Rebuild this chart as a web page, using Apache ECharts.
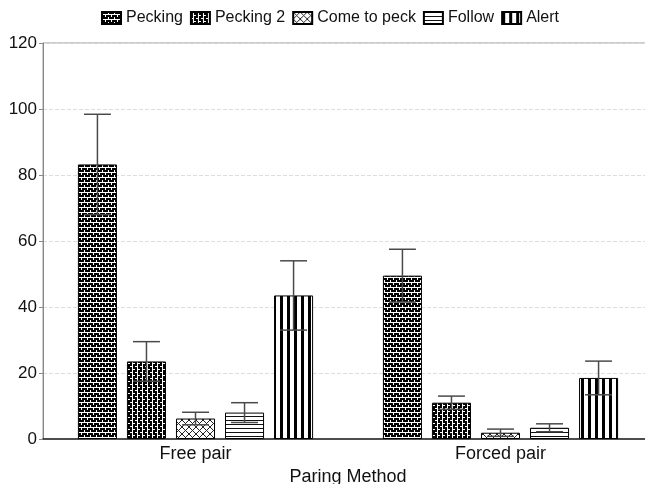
<!DOCTYPE html>
<html>
<head>
<meta charset="utf-8">
<script src="https://cdn.jsdelivr.net/npm/echarts@6/dist/echarts.min.js"></script>
<style>html,body{margin:0;padding:0;background:#fff}#c{width:645px;height:484px}</style>
</head>
<body>
<div id="c"></div>
<script>
// ---- data ----
var categories = ['Free pair', 'Forced pair'];
var seriesNames = ['Pecking', 'Pecking 2', 'Come to peck', 'Follow', 'Alert'];
var pecking      = [83.2, 49.5];
var peckingErr   = [15.2, 8.0];
var pecking2     = [23.5, 11.0];
var pecking2Err  = [6.0, 2.0];
var comeToPeck   = [6.2, 1.9];
var comeToPeckErr= [1.9, 1.1];
var follow       = [8.0, 3.4];
var followErr    = [3.0, 1.2];
var alertV       = [43.5, 18.5];
var alertErr     = [10.5, 5.1];
var yTicks = [0, 20, 40, 60, 80, 100, 120];

var means = [pecking, pecking2, comeToPeck, follow, alertV];
var errs  = [peckingErr, pecking2Err, comeToPeckErr, followErr, alertErr];

// ---- patterns ----
function mk(w, h, draw) {
  var c = document.createElement('canvas');
  c.width = w; c.height = h;
  var g = c.getContext('2d');
  draw(g, w, h);
  return { image: c, repeat: 'repeat' };
}
var patBrickH = mk(6, 5, function (g, w, h) {
  g.fillStyle = '#000'; g.fillRect(0, 0, w, h);
  g.fillStyle = '#fff';
  g.fillRect(0, 2, w, 1);
  g.fillRect(0, 0, 1, 2); g.fillRect(3, 3, 1, 2);
});
var patBrickV = mk(5, 6, function (g, w, h) {
  g.fillStyle = '#000'; g.fillRect(0, 0, w, h);
  g.fillStyle = '#fff';
  g.fillRect(2, 0, 1, h);
  g.fillRect(0, 0, 2, 1); g.fillRect(3, 3, 2, 1);
});
var patCross = mk(7, 7, function (g, w, h) {
  g.fillStyle = '#fff'; g.fillRect(0, 0, w, h);
  g.strokeStyle = '#222'; g.lineWidth = 1;
  g.beginPath();
  g.moveTo(0, 0); g.lineTo(w, h);
  g.moveTo(w, 0); g.lineTo(0, h);
  g.stroke();
});
var patHoriz = mk(4, 4, function (g, w, h) {
  g.fillStyle = '#fff'; g.fillRect(0, 0, w, h);
  g.fillStyle = '#111'; g.fillRect(0, 0, w, 1);
});
var patVert = mk(7, 4, function (g, w, h) {
  g.fillStyle = '#fff'; g.fillRect(0, 0, w, h);
  g.fillStyle = '#000'; g.fillRect(0, 0, 3, h);
});
var patterns = [patBrickH, patBrickV, patCross, patHoriz, patVert];

var BAR_W = 0.128;   // fraction of category band
var GAP = 0.256;     // fraction of bar width

var series = [];
seriesNames.forEach(function (name, i) {
  series.push({
    name: name,
    type: 'bar',
    data: means[i],
    barWidth: (BAR_W * 100) + '%',
    barGap: (GAP * 100) + '%',
    itemStyle: { color: patterns[i], borderColor: '#000', borderWidth: 1 },
    emphasis: { disabled: true },
    animation: false
  });
});
seriesNames.forEach(function (name, i) {
  var data = categories.map(function (c, k) { return [k, means[i][k], errs[i][k]]; });
  series.push({
    name: 'err' + i,
    type: 'custom',
    data: data,
    z: 10,
    animation: false,
    encode: { x: 0, y: 1 },
    renderItem: function (params, api) {
      var k = api.value(0), m = api.value(1), e = api.value(2);
      var catW = api.size([1, 0])[0];
      var bw = catW * BAR_W;
      var step = bw * (1 + GAP);
      var off = (i - 2) * step;
      var hi = api.coord([k, m + e]);
      var lo = api.coord([k, m - e]);
      var x = hi[0] + off;
      var cap = bw * 0.345;
      var st = { stroke: '#4a4a4a', lineWidth: 1.5 };
      return {
        type: 'group',
        children: [
          { type: 'line', shape: { x1: x, y1: hi[1], x2: x, y2: lo[1] }, style: st },
          { type: 'line', shape: { x1: x - cap, y1: hi[1], x2: x + cap, y2: hi[1] }, style: st },
          { type: 'line', shape: { x1: x - cap, y1: lo[1], x2: x + cap, y2: lo[1] }, style: st }
        ]
      };
    }
  });
});

var chart = echarts.init(document.getElementById('c'), null, { renderer: 'canvas' });
chart.setOption({
  backgroundColor: '#fff',
  animation: false,
  textStyle: { fontFamily: 'Liberation Sans, Arial, sans-serif' },
  legend: {
    data: seriesNames,
    top: 5,
    left: 96,
    itemWidth: 19,
    itemHeight: 12,
    itemGap: 7,
    icon: 'rect',
    textStyle: { fontSize: 16, color: '#111', fontFamily: 'Liberation Sans, Arial, sans-serif' }
  },
  grid: { left: 43, top: 43, width: 610, height: 396, outerBoundsMode: 'none', containLabel: false,
          show: true, borderColor: '#999', borderWidth: 1 },
  xAxis: {
    type: 'category',
    data: categories,
    axisTick: { show: false },
    axisLine: { lineStyle: { color: '#222', width: 1.5 } },
    axisLabel: { fontSize: 18, color: '#111', margin: 6 },
    name: 'Paring Method',
    nameLocation: 'middle',
    nameGap: 27,
    nameTextStyle: { fontSize: 18, color: '#111' }
  },
  yAxis: {
    type: 'value',
    min: yTicks[0],
    max: yTicks[yTicks.length - 1],
    interval: 20,
    axisLine: { show: true, lineStyle: { color: '#888', width: 1 } },
    axisTick: { show: true, length: 4, lineStyle: { color: '#888' } },
    axisLabel: { fontSize: 17, color: '#111', margin: 6 },
    splitLine: { lineStyle: { color: '#ddd', type: 'dashed' } }
  },
  series: series
});
</script>
</body>
</html>
